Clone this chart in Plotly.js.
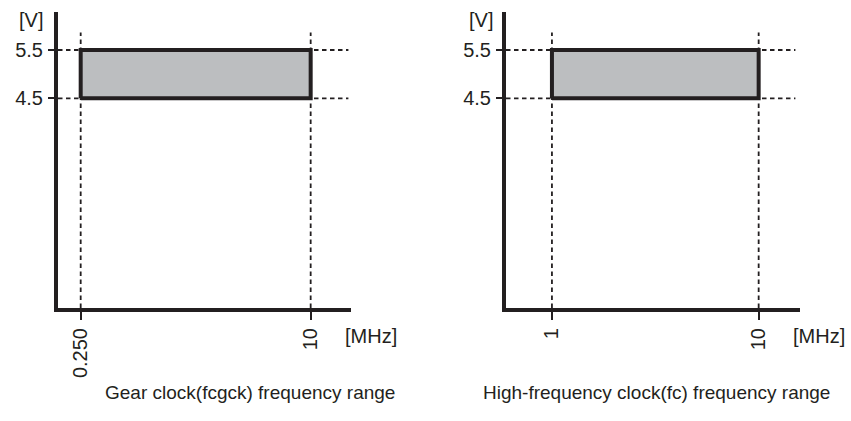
<!DOCTYPE html>
<html>
<head>
<meta charset="utf-8">
<script src="https://cdn.plot.ly/plotly-3.0.1.min.js"></script>
<style>html,body{margin:0;padding:0;background:#fff;}#chart{width:851px;height:421px;}</style>
</head>
<body>
<div id="chart"></div>
<script>
// ---- data ----
var gearFreqRange = [0.25, 10];          // MHz
var gearVoltRange = [4.5, 5.5];          // V
var gearFreqTickText = ['0.250', '10'];
var hfFreqRange = [1, 10];               // MHz
var hfVoltRange = [4.5, 5.5];            // V
var hfFreqTickText = ['1', '10'];
var voltTickText = ['4.5', '5.5'];
var panelTitles = ['Gear clock(fcgck) frequency range', 'High-frequency clock(fc) frequency range'];
var xUnit = '[MHz]';
var yUnit = '[V]';

// ---- style ----
var INK = '#231f20';
var FILL = '#bcbec0';
var FONT = 'Liberation Sans, Arial, sans-serif';
var DASH = '4.5px,3.5px';
var W = 851, H = 421;

function panelTraces(freq, volt, xa, ya, xr, yr) {
  var f0 = freq[0], f1 = freq[1], v0 = volt[0], v1 = volt[1];
  var traces = [];
  // vertical dashed guides
  [f0, f1].forEach(function (f) {
    traces.push({x: [f, f], y: [yr[0], v1 + 0.36], xaxis: xa, yaxis: ya, mode: 'lines',
      line: {color: INK, width: 1.8, dash: DASH}, hoverinfo: 'skip', showlegend: false});
  });
  // horizontal dashed guides
  [v0, v1].forEach(function (v) {
    traces.push({x: [xr[0], f1 + 1.6], y: [v, v], xaxis: xa, yaxis: ya, mode: 'lines',
      line: {color: INK, width: 1.8, dash: DASH}, hoverinfo: 'skip', showlegend: false});
  });
  // range rectangle
  traces.push({x: [f0, f1, f1, f0, f0], y: [v0, v0, v1, v1, v0], xaxis: xa, yaxis: ya,
    mode: 'lines', fill: 'toself', fillcolor: FILL,
    line: {color: INK, width: 4}, hoverinfo: 'skip', showlegend: false});
  return traces;
}

var yRange = [0.158, 6.287];
var x1Range = [-0.712, 11.71];
var x2Range = [-1.0, 11.8];

var data = [].concat(
  panelTraces(gearFreqRange, gearVoltRange, 'x', 'y', x1Range, yRange),
  panelTraces(hfFreqRange, hfVoltRange, 'x2', 'y2', x2Range, yRange)
);

var tickFont = {family: FONT, size: 20, color: INK};
function xAxis(dom, rng, vals, text, anchor) {
  return {domain: dom, range: rng, anchor: anchor, tickvals: vals, ticktext: text,
    tickangle: -90, ticks: 'outside', ticklen: 8, tickwidth: 1.8, tickcolor: INK,
    showline: true, linewidth: 4, linecolor: INK, showgrid: false, zeroline: false,
    tickfont: tickFont, fixedrange: true};
}
function yAxis(dom, anchor) {
  return {domain: dom, range: yRange, anchor: anchor, tickvals: gearVoltRange, ticktext: voltTickText,
    ticks: 'outside', ticklen: 6, tickwidth: 1.8, tickcolor: INK,
    showline: true, linewidth: 4, linecolor: INK, showgrid: false, zeroline: false,
    tickfont: tickFont, ticklabelstandoff: 1, fixedrange: true};
}
var yDom = [1 - 308 / H, 1 - 12 / H];

var annFont = {family: FONT, size: 20, color: INK};
var titleFont = {family: FONT, size: 19, color: INK};
function ann(text, px, py, font) {
  return {text: text, xref: 'paper', yref: 'paper', x: px / W, y: 1 - py / H,
    xanchor: 'center', yanchor: 'middle', showarrow: false, font: font};
}

var layout = {
  width: W, height: H,
  margin: {l: 0, r: 0, t: 0, b: 0},
  paper_bgcolor: '#ffffff', plot_bgcolor: 'rgba(0,0,0,0)',
  showlegend: false,
  xaxis: xAxis([58 / W, 351 / W], x1Range, gearFreqRange, gearFreqTickText, 'y'),
  yaxis: yAxis(yDom, 'x'),
  xaxis2: xAxis([506 / W, 800 / W], x2Range, hfFreqRange, hfFreqTickText, 'y2'),
  yaxis2: yAxis(yDom, 'x2'),
  annotations: [
    ann(yUnit, 31, 20, annFont),
    ann(yUnit, 481, 20, annFont),
    ann(xUnit, 371, 336, annFont),
    ann(xUnit, 819, 336, annFont),
    ann(panelTitles[0], 250, 392, titleFont),
    ann(panelTitles[1], 656, 392, titleFont)
  ]
};

Plotly.newPlot('chart', data, layout, {displayModeBar: false, staticPlot: true});
</script>
</body>
</html>
